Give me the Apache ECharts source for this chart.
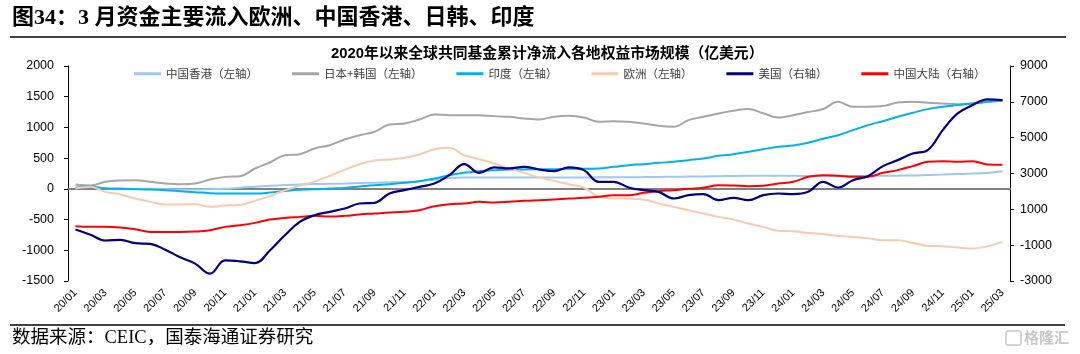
<!DOCTYPE html>
<html>
<head>
<meta charset="utf-8">
<script src="https://cdn.jsdelivr.net/npm/echarts@6/dist/echarts.min.js"></script>
<style>
  html, body { margin: 0; padding: 0; background: #fff; }
  #chart { width: 1080px; height: 354px; }
</style>
</head>
<body>
<div id="chart"></div>
<script>
// 月份（20/01 ~ 25/03）
const months = [
  '20/01','20/02','20/03','20/04','20/05','20/06','20/07','20/08','20/09','20/10','20/11','20/12',
  '21/01','21/02','21/03','21/04','21/05','21/06','21/07','21/08','21/09','21/10','21/11','21/12',
  '22/01','22/02','22/03','22/04','22/05','22/06','22/07','22/08','22/09','22/10','22/11','22/12',
  '23/01','23/02','23/03','23/04','23/05','23/06','23/07','23/08','23/09','23/10','23/11','23/12',
  '24/01','24/02','24/03','24/04','24/05','24/06','24/07','24/08','24/09','24/10','24/11','24/12',
  '25/01','25/02','25/03'
];

// 左轴（亿美元）
const hongKong = [
  20, 30, 10, 5, 0, 0, -5, -10, -10, -5, 0, 20,
  35, 50, 62, 72, 78, 82, 88, 95, 100, 105, 112, 125,
  150, 178, 185, 186, 186, 186, 186, 186, 186, 186, 186, 187,
  188, 190, 192, 195, 198, 200, 202, 205, 210, 212, 212, 212,
  212, 210, 210, 210, 210, 212, 212, 215, 218, 225, 232, 240,
  248, 260, 285
];
const japanKorea = [
  71, 55, 114, 136, 141, 114, 87, 76, 87, 152, 195, 206,
  331, 429, 548, 565, 657, 711, 804, 874, 929, 1048, 1064, 1129,
  1211, 1200, 1200, 1200, 1184, 1173, 1146, 1129, 1173, 1189, 1162, 1091,
  1102, 1091, 1064, 1026, 1010, 1119, 1173, 1227, 1271, 1300, 1230, 1160,
  1200, 1250, 1300, 1417, 1336, 1336, 1347, 1406, 1417, 1401, 1390, 1379,
  1390, 1417, 1434
];
const india = [
  16, 40, 5, 0, -5, -11, -22, -38, -54, -71, -76, -76,
  -76, -60, -33, -15, -8, 5, 16, 38, 60, 76, 98, 125,
  168, 223, 261, 288, 304, 315, 315, 320, 320, 326, 326, 331,
  358, 386, 402, 424, 440, 467, 494, 538, 565, 603, 646, 685,
  705, 749, 815, 874, 956, 1037, 1102, 1173, 1238, 1298, 1336, 1363,
  1390, 1417, 1444
];
const europe = [
  5, 33, -49, -92, -157, -212, -255, -255, -250, -293, -271, -261,
  -195, -119, -25, 50, 120, 210, 310, 400, 460, 478, 505, 559,
  646, 668, 548, 483, 413, 331, 261, 185, 130, 76, 22, -130,
  -152, -157, -174, -239, -293, -348, -402, -456, -500, -565, -619, -684,
  -690, -717, -738, -766, -782, -804, -836, -836, -880, -929, -934, -956,
  -972, -934, -863
];

// 右轴（亿美元）
const usa = [
  -130, -420, -740, -700, -890, -930, -1250, -1680, -2030, -2590, -1850, -1900,
  -2000, -1300, -450, 300, 672, 859, 1045, 1325, 1362, 1883, 2070, 2256,
  2442, 2908, 3523, 3038, 3337, 3281, 3374, 3225, 3132, 3337, 3188, 2535,
  2535, 2219, 2070, 1976, 1604, 1790, 1846, 1511, 1641, 1511, 1790, 1883,
  1846, 1976, 2535, 2219, 2628, 2852, 3411, 3746, 4119, 4305, 5423, 6355,
  6820, 7137, 7100
];
const chinaMainland = [
  58, 21, 21, -17, -110, -259, -259, -259, -240, -166, 21, 114,
  244, 430, 523, 579, 635, 598, 635, 710, 766, 821, 859, 952,
  1176, 1288, 1325, 1418, 1381, 1418, 1474, 1511, 1548, 1604, 1641, 1697,
  1790, 1790, 1921, 2014, 2070, 2144, 2200, 2349, 2330, 2293, 2312, 2440,
  2535, 2815, 2908, 2871, 2815, 2815, 3038, 3188, 3411, 3653, 3690, 3653,
  3690, 3504, 3485
];

const numFont = '"Liberation Sans", Arial, sans-serif';
const cjkFont = '"Liberation Serif", "Noto Sans CJK SC", serif';

const myChart = echarts.init(document.getElementById('chart'));

const line = (name, data, color, yIdx, width) => ({
  name: name,
  type: 'line',
  data: data,
  xAxisIndex: 0,
  yAxisIndex: yIdx,
  smooth: 0.4,
  symbol: 'none',
  lineStyle: { color: color, width: width || 2 },
  itemStyle: { color: color }
});

const plain = (v) => String(v); // 不要千分位

const option = {
  animation: false,
  backgroundColor: '#fff',
  title: {
    text: '2020年以来全球共同基金累计净流入各地权益市场规模（亿美元）',
    left: 331,
    top: 47,
    padding: 0,
    textStyle: { fontSize: 14.8, fontWeight: 'bold', color: '#000', fontFamily: '"Liberation Sans", "Noto Sans CJK SC", sans-serif' }
  },
  legend: {
    left: 134,
    top: 68,
    padding: 0,
    icon: 'rect',
    itemWidth: 27,
    itemHeight: 3,
    itemGap: 34,
    textStyle: { fontSize: 11.5, color: '#404040', fontFamily: '"Noto Sans CJK SC", sans-serif' },
    data: ['中国香港（左轴）', '日本+韩国（左轴）', '印度（左轴）', '欧洲（左轴）', '美国（右轴）', '中国大陆（右轴）']
  },
  grid: { left: 68, right: 70, top: 66, bottom: 73 },
  xAxis: [
    {
      type: 'category',
      data: months,
      boundaryGap: true,
      position: 'bottom',
      axisLine: { onZero: true, lineStyle: { color: '#808080', width: 2 } },
      axisTick: { interval: 1, length: 4, lineStyle: { color: '#808080', width: 1 } },
      axisLabel: { show: false },
      splitLine: { show: false }
    },
    {
      type: 'category',
      data: months,
      boundaryGap: true,
      position: 'bottom',
      axisLine: { show: false, onZero: false },
      axisTick: { show: false },
      axisLabel: { interval: 1, rotate: 45, margin: 10, fontSize: 11, color: '#000', fontFamily: numFont },
      splitLine: { show: false }
    }
  ],
  yAxis: [
    {
      type: 'value',
      position: 'left',
      min: -1500,
      max: 2000,
      interval: 500,
      axisLine: { show: true, lineStyle: { color: '#000', width: 1 } },
      axisTick: { show: true, length: 4, lineStyle: { color: '#000' } },
      axisLabel: { margin: 14, fontSize: 12.5, color: '#000', fontFamily: numFont, formatter: plain },
      splitLine: { show: false }
    },
    {
      type: 'value',
      position: 'right',
      min: -3000,
      max: 9000,
      interval: 2000,
      axisLine: { show: true, lineStyle: { color: '#000', width: 1 } },
      axisTick: { show: true, length: 4, lineStyle: { color: '#000' } },
      axisLabel: { margin: 10, fontSize: 12.5, color: '#000', fontFamily: numFont, formatter: plain },
      splitLine: { show: false }
    }
  ],
  series: [
    line('中国香港（左轴）', hongKong, '#9DC8F0', 0),
    line('日本+韩国（左轴）', japanKorea, '#A6A6A6', 0),
    line('印度（左轴）', india, '#00B0F0', 0),
    line('欧洲（左轴）', europe, '#F8CBAD', 0),
    line('中国大陆（右轴）', chinaMainland, '#FF0000', 1),
    line('美国（右轴）', usa, '#000080', 1, 2.2)
  ],
  graphic: [
    {
      type: 'text', left: 12, top: 7,
      style: { text: '图34：3 月资金主要流入欧洲、中国香港、日韩、印度', fill: '#000', font: 'bold 22px ' + cjkFont }
    },
    { type: 'line', shape: { x1: 10, y1: 37, x2: 1066, y2: 37 }, style: { stroke: '#404040', lineWidth: 2 } },
    { type: 'line', shape: { x1: 10, y1: 325, x2: 1065, y2: 325 }, style: { stroke: '#000', lineWidth: 1.5 } },
    {
      type: 'text', left: 12, top: 329,
      style: { text: '数据来源：CEIC，国泰海通证券研究', fill: '#000', font: '18.5px ' + cjkFont }
    },
    { type: 'rect', shape: { x: 1006, y: 331, width: 15, height: 14, r: 2 }, style: { fill: 'none', stroke: '#c8c8c8', lineWidth: 1.5 } },
    {
      type: 'text', left: 1024, top: 330,
      style: { text: '格隆汇', fill: '#c8c8c8', font: 'bold 15px "Noto Sans CJK SC", sans-serif' }
    }
  ]
};

myChart.setOption(option);
</script>
</body>
</html>
